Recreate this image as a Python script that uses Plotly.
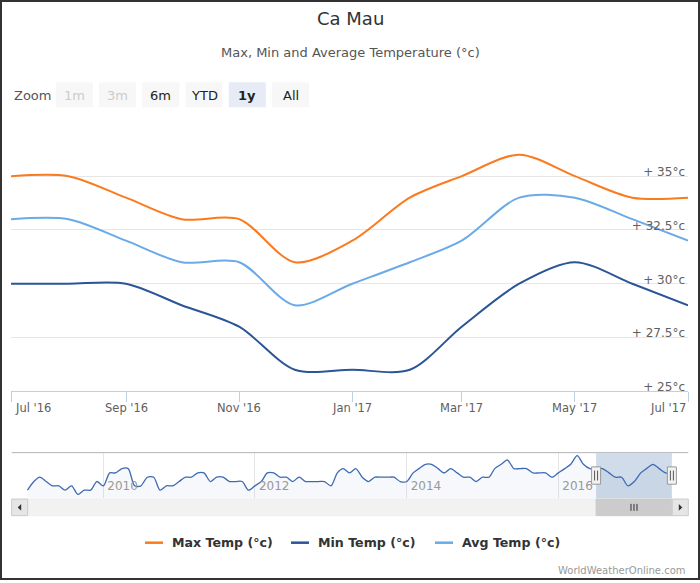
import plotly.graph_objects as go
import pandas as pd

# ---------------- data ----------------
months = ["2016-07-01", "2016-08-01", "2016-09-01", "2016-10-01", "2016-11-01",
          "2016-12-01", "2017-01-01", "2017-02-01", "2017-03-01", "2017-04-01",
          "2017-05-01", "2017-06-01", "2017-07-01"]
max_temp = [35, 35, 34, 33, 33, 31, 32, 34, 35, 36, 35, 34, 34]
min_temp = [30, 30, 30, 29, 28, 26, 26, 26, 28, 30, 31, 30, 29]
avg_temp = [33, 33, 32, 31, 31, 29, 30, 31, 32, 34, 34, 33, 32]

# navigator history of Max Temp, Jan 2009 .. Jun 2016 (monthly)
nav_hist_max = [
    30, 32, 33, 32, 31, 31, 30, 31, 29, 30, 30, 32,   # 2009
    31, 34, 34, 35, 35, 31, 31, 33, 33, 30, 31, 31,   # 2010
    32, 33, 33, 34, 34, 32, 33, 33, 32, 32, 32, 30,   # 2011
    31, 32, 34, 34, 33, 33, 32, 33, 32, 32, 32, 32,   # 2012
    31, 34, 35, 34, 35, 33, 32, 33, 33, 33, 33, 32,   # 2013
    32, 34, 35, 36, 36, 35, 34, 35, 34, 33, 33, 32,   # 2014
    33, 33, 35, 36, 37, 35, 35, 35, 34, 34, 34, 33,   # 2015
    34, 35, 36, 38, 36, 35,                           # 2016 Jan-Jun
]
nav_start = "2009-01-01"
nav_range = ["2008-10-17", "2017-09-18"]

xtick_dates = ["2016-07-01", "2016-09-01", "2016-11-01", "2017-01-01",
               "2017-03-01", "2017-05-01", "2017-07-01"]
xtick_labels = ["Jul '16", "Sep '16", "Nov '16", "Jan '17", "Mar '17", "May '17", "Jul '17"]
ytick_vals = [25, 27.5, 30, 32.5, 35, 37.5]
ytick_labels = ["+ 25°c", "+ 27.5°c", "+ 30°c", "+ 32.5°c", "+ 35°c", ""]
nav_year_ticks = ["2010-01-01", "2012-01-01", "2014-01-01", "2016-01-01"]
nav_year_labels = ["2010", "2012", "2014", "2016"]

zoom_buttons = ["1m", "3m", "6m", "YTD", "1y", "All"]
series_names = ["Max Temp (°c)", "Min Temp (°c)", "Avg Temp (°c)"]

# ---------------- style ----------------
W, H = 700, 583
FONT = "DejaVu Sans"
MAX_C = "#fb7a1e"
MIN_C = "#2b5597"
AVG_C = "#6aaae8"
NAV_C = "#3d6bb3"
AXC = "#c0d0e0"
GRID = "#e6e6e6"
SMOOTH = 0.85


def px(x):
    return x / W


def py(y):
    return 1 - y / H


nav_vals = nav_hist_max + max_temp
nav_dates = pd.date_range(nav_start, periods=len(nav_vals), freq="MS")

fig = go.Figure()
for name, vals, col in zip(series_names, [max_temp, min_temp, avg_temp], [MAX_C, MIN_C, AVG_C]):
    fig.add_trace(go.Scatter(x=months, y=vals, mode="lines", name=name,
                             line=dict(color=col, width=2, shape="spline", smoothing=SMOOTH),
                             xaxis="x", yaxis="y", showlegend=False, hoverinfo="skip"))

fig.add_trace(go.Scatter(x=nav_dates, y=nav_vals, mode="lines", fill="tozeroy",
                         fillcolor="rgba(69,114,167,0.05)",
                         line=dict(color=NAV_C, width=1.3, shape="spline", smoothing=0.8),
                         xaxis="x2", yaxis="y2", showlegend=False, hoverinfo="skip"))

shapes = []
annotations = []

# outer border
shapes.append(dict(type="rect", xref="paper", yref="paper", x0=px(1), x1=px(699), y0=py(582), y1=py(1),
                   line=dict(color="#333333", width=2), fillcolor="rgba(0,0,0,0)", layer="above"))

# title & subtitle
annotations.append(dict(text="Ca Mau", x=0.5, y=py(19), xref="paper", yref="paper", showarrow=False,
                        xanchor="center", yanchor="middle", font=dict(family=FONT, size=18, color="#333333")))
annotations.append(dict(text="Max, Min and Average Temperature (°c)", x=0.5, y=py(53), xref="paper",
                        yref="paper", showarrow=False, xanchor="center", yanchor="middle",
                        font=dict(family=FONT, size=13, color="#555555")))

# zoom label & buttons
annotations.append(dict(text="Zoom", x=px(12), y=py(95.5), xref="paper", yref="paper", showarrow=False,
                        xanchor="left", yanchor="middle", font=dict(family=FONT, size=13, color="#555555")))
btn_left0, btn_step, btn_w = 55.8, 43.25, 37.0
for i, lab in enumerate(zoom_buttons):
    x0 = btn_left0 + i * btn_step
    selected = lab == "1y"
    disabled = lab in ("1m", "3m")
    shapes.append(dict(type="rect", xref="paper", yref="paper", x0=px(x0), x1=px(x0 + btn_w),
                       y0=py(107.7), y1=py(82.7), line=dict(width=0),
                       fillcolor="#e6ebf5" if selected else "#f7f7f7", layer="below"))
    annotations.append(dict(text=f"<b>{lab}</b>" if selected else lab, x=px(x0 + btn_w / 2), y=py(95.5),
                            xref="paper", yref="paper", showarrow=False, xanchor="center", yanchor="middle",
                            font=dict(family=FONT, size=13,
                                      color="#cccccc" if disabled else "#222222")))

# x tick labels of main axis
for i, (d, lab) in enumerate(zip(xtick_dates, xtick_labels)):
    if i == 0:
        xa, xs = "left", 2
    elif i == len(xtick_dates) - 1:
        xa, xs = "right", 0
    else:
        xa, xs = "center", 0
    annotations.append(dict(text=lab, x=d, xref="x", y=py(410.5), yref="paper", showarrow=False,
                            xanchor=xa, xshift=xs, yanchor="middle",
                            font=dict(family=FONT, size=11.5, color="#606060")))

# navigator: top outline
shapes.append(dict(type="line", xref="paper", yref="paper", x0=px(11.7), x1=px(688.3),
                   y0=py(455), y1=py(455), line=dict(color="#b2b1b6", width=1)))
# navigator selection
shapes.append(dict(type="rect", xref="x2", yref="paper", x0=months[0], x1=months[-1],
                   y0=py(501), y1=py(455.5), line=dict(width=0),
                   fillcolor="rgba(69,114,167,0.25)", layer="below"))

# scrollbar
SB_T, SB_B = 501.7, 518.3
shapes.append(dict(type="rect", xref="paper", yref="paper", x0=px(11.7), x1=px(688.3),
                   y0=py(SB_B), y1=py(SB_T), line=dict(color="#eeeeee", width=1), fillcolor="#f2f2f2"))
shapes.append(dict(type="rect", xref="x2", yref="paper", x0=months[0], x1=months[-1],
                   y0=py(SB_B), y1=py(SB_T), line=dict(color="#cccccc", width=1), fillcolor="#cccccc"))
for bx0 in (11.7, 672.3):
    shapes.append(dict(type="rect", xref="paper", yref="paper", x0=px(bx0), x1=px(bx0 + 16),
                       y0=py(SB_B), y1=py(SB_T), line=dict(color="#cccccc", width=1), fillcolor="#e6e6e6"))
# arrows
cy = (SB_T + SB_B) / 2
shapes.append(dict(type="path", xref="paper", yref="paper",
                   path=f"M {px(17.7)} {py(cy)} L {px(21.2)} {py(cy-3.5)} L {px(21.2)} {py(cy+3.5)} Z",
                   fillcolor="#333333", line=dict(width=0)))
shapes.append(dict(type="path", xref="paper", yref="paper",
                   path=f"M {px(682.3)} {py(cy)} L {px(678.8)} {py(cy-3.5)} L {px(678.8)} {py(cy+3.5)} Z",
                   fillcolor="#333333", line=dict(width=0)))
# thumb grip lines (|||) at center of selection
mid_sel = pd.Timestamp(months[0]) + (pd.Timestamp(months[-1]) - pd.Timestamp(months[0])) / 2
for dx in (-3, 0, 3):
    shapes.append(dict(type="line", xref="x2", yref="paper", xsizemode="pixel", xanchor=mid_sel,
                       x0=dx, x1=dx, y0=py(cy + 3.5), y1=py(cy - 3.5),
                       line=dict(color="#333333", width=1)))
# navigator handles
for d in (months[0], months[-1]):
    shapes.append(dict(type="rect", xref="x2", yref="paper", xsizemode="pixel", xanchor=d,
                       x0=-4.5, x1=4.5, y0=py(486.7), y1=py(469.3),
                       line=dict(color="#999999", width=1), fillcolor="#f2f2f2"))
    for dx in (-1.5, 1.5):
        shapes.append(dict(type="line", xref="x2", yref="paper", xsizemode="pixel", xanchor=d,
                           x0=dx, x1=dx, y0=py(483), y1=py(473), line=dict(color="#555555", width=1)))

# legend (manual)
leg_items = [(145, 169.5, MAX_C), (291, 316, MIN_C), (435, 460, AVG_C)]
for (lx, tx, col), name in zip(leg_items, series_names):
    shapes.append(dict(type="line", xref="paper", yref="paper", x0=px(lx), x1=px(lx + 18),
                       y0=py(545.5), y1=py(545.5), line=dict(color=col, width=2.5)))
    annotations.append(dict(text=f"<b>{name}</b>", x=px(tx), y=py(545.5), xref="paper", yref="paper",
                            showarrow=False, xanchor="left", yanchor="middle",
                            font=dict(family=FONT, size=12.6, color="#333333")))

# credits
annotations.append(dict(text="WorldWeatherOnline.com", x=px(688), y=py(573), xref="paper", yref="paper",
                        showarrow=False, xanchor="right", yanchor="middle",
                        font=dict(family=FONT, size=10, color="#999999")))

fig.update_layout(
    width=W, height=H, margin=dict(l=0, r=0, t=0, b=0, pad=0),
    paper_bgcolor="white", plot_bgcolor="white",
    font=dict(family=FONT, color="#606060"),
    showlegend=False,
    xaxis=dict(domain=[px(11), px(688)], anchor="y", type="date", range=[months[0], months[-1]],
               tickvals=xtick_dates, showticklabels=False, ticks="outside", ticklen=10,
               tickcolor=AXC, tickwidth=1, showline=True, linecolor=AXC, linewidth=1,
               showgrid=False, zeroline=False, fixedrange=True),
    yaxis=dict(domain=[py(393.3), py(123)], anchor="x", range=[25, 37.5], side="right",
               tickvals=ytick_vals, ticktext=ytick_labels, ticklabelposition="inside top",
               ticklabelshift=4, ticklabelstandoff=0, ticklabeloverflow="allow",
               tickfont=dict(family=FONT, size=12, color="#606060"),
               showgrid=True, gridcolor=GRID, gridwidth=1, showline=False, zeroline=False,
               ticks="", fixedrange=True),
    xaxis2=dict(domain=[px(11.7), px(688.3)], anchor="y2", type="date", range=nav_range,
                tickvals=nav_year_ticks, ticktext=nav_year_labels, ticklabelposition="inside right",
                ticklabelshift=4,
                tickfont=dict(family=FONT, size=12, color="#999999"),
                showgrid=True, gridcolor=GRID, showline=False, zeroline=False, ticks="",
                fixedrange=True),
    yaxis2=dict(domain=[py(501), py(455)], anchor="x2", range=[28.08, 38.7], visible=False,
                showgrid=False, fixedrange=True),
    shapes=shapes,
    annotations=annotations,
)

fig.write_html("out.html", config={"displayModeBar": False})
